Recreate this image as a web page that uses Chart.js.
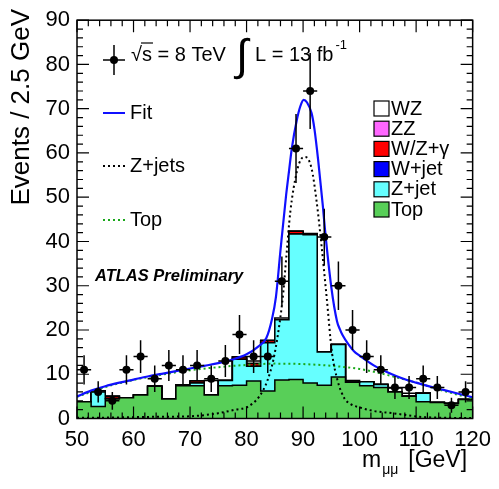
<!DOCTYPE html>
<html><head><meta charset="utf-8">
<script src="https://cdn.jsdelivr.net/npm/chart.js@4.4.0/dist/chart.umd.min.js"></script>
<style>html,body{margin:0;padding:0;background:#fff}#wrap{width:499px;height:489px;position:relative}</style>
</head><body><div id="wrap"><canvas id="c" width="499" height="489"></canvas></div>
<script>
// ---- data ----
const binEdges = [50,52.5,55,57.5,60,62.5,65,67.5,70,72.5,75,77.5,80,82.5,85,87.5,90,92.5,95,97.5,100,102.5,105,107.5,110,112.5,115,117.5,120];
const dataCounts = [11,6,4,11,14,9,12,11,12,9,13,19,14,14,31,61,74,41,30,20,14,11,7,7,9,7,3,6];
const dataErrors = [3.3,2.4,2.0,3.3,3.7,3.0,3.5,3.3,3.5,3.0,3.6,4.4,3.7,3.7,5.6,7.8,8.6,6.4,5.5,4.5,3.7,3.3,2.6,2.6,3.0,2.6,1.7,2.4];
const topBkg  = [3.8,2.7,4.4,4.7,5.3,7.3,4.4,7.4,7.4,5.3,7.4,7.5,8.5,6.2,8.7,8.8,8.0,7.5,9.4,8.2,7.4,7.0,6.0,5.0,3.8,3.6,3.4,4.3];
const zJet    = [0,3.5,0.1,0,0,0,0,0.2,0.6,0,1.2,5.9,3.3,10.9,13.6,32.9,33.5,7.5,7.3,0,0.9,0.7,0,0,1.9,0,0,0];
const wJet    = [0,0,0,0,0,0,0,0,0,0,0,0,0,0,0,0,0,0,0,0,0,0,0,0,0,0,0,0];
const wzGamma = [0,0,0.5,0,0,0,0,0,0.5,0,0,0.5,0.6,0.5,0,0.6,0.2,0,0,0,0,0,0,0,0,0,0,0];
const zzBkg   = [0,0,0,0,0,0,0,0,0,0,0,0,0,0,0,0,0,0,0,0,0,0,0,0,0,0,0,0];
const wzBkg   = [0,0,0,0,0,0,0,0,0,3.3,0,0,0.6,0,0.4,0,0.1,0,0,0.4,0,0,0.9,0.7,0,0,0,0];

const fitX = [50,52.5,55,57.5,60,62.5,65,67.5,70,72.5,75,77.5,80,82,83.5,84.5,85.2,86,87,87.5,88,88.9,89.5,90.1,90.7,91.5,92,92.7,93.5,93.85,95,96,96.5,97,98,99,100,102.5,105,107.5,110,112.5,115,117.5,120];
const fitY = [5.0,6.3,7.3,8.1,8.8,9.5,10.1,10.7,11.3,11.9,12.5,13.3,14.5,16.2,18.2,22.5,27.5,38,50.5,55.8,61,67.5,70.5,72,71.4,69,65.5,58,48,43,29.6,22,20.2,18.8,16.8,15.2,14.2,12.0,10.4,9.1,8.1,7.2,6.4,5.6,4.8];
const zjCurveX = [50,55,60,65,70,75,78,80.2,82.2,83.7,84.85,86,86.5,87,87.75,88.9,89.6,90.4,91.5,92.4,93.3,94.2,95.1,96.1,97.3,98.5,100,102.5,105.8,111.6,120];
const zjCurveY = [0.15,0.2,0.3,0.4,0.5,1.2,2.0,2.65,4.9,8.6,13.9,23,28.5,36,46.8,55.8,58.5,59.1,56.5,49,38.6,27,15,8.6,4.6,3.2,2.5,1.7,1.2,0.3,0.1];
const topCurveX = [50,55,60,65,70,75,80,85,90,95,100,105,110,115,120];
const topCurveY = [4.9,7.1,8.7,9.9,10.9,11.6,12.1,12.4,12.3,11.9,11.2,9.8,8.1,6.2,4.5];

const xTickLabels = [50,60,70,80,90,100,110,120];
const yTickLabels = [0,10,20,30,40,50,60,70,80,90];

const stackNames  = ['Top','Z+jet','W+jet','W/Z+γ','ZZ','WZ'];
const stackColors = ['#58cf58','#66ffff','#0000ff','#ff0000','#ff66ff','#ffffff'];
const stackParts  = [topBkg, zJet, wJet, wzGamma, zzBkg, wzBkg];

// ---- build ----
const FONT = '"Liberation Sans", Arial, Helvetica, sans-serif';
const cum = [];
stackParts.forEach((p,k)=>{ cum.push(p.map((v,i)=> v + (k>0 ? cum[k-1][i] : 0))); });
function stepPts(arr){ const pts=[]; arr.forEach((v,i)=>{pts.push({x:binEdges[i],y:v});pts.push({x:binEdges[i+1],y:v});}); return pts; }
function xy(xs,ys){ return xs.map((x,i)=>({x:x,y:ys[i]})); }

const datasets = [];
for (let k = stackParts.length-1; k >= 0; k--) {
  datasets.push({type:'line', label:stackNames[k], data:stepPts(cum[k]), borderColor:'#000', borderWidth:1.5,
    backgroundColor:stackColors[k], fill:'origin', pointRadius:0, tension:0, order:10+k});
}
datasets.push({type:'line', label:'TopCurve', data:xy(topCurveX,topCurveY), borderColor:'#1aa81a', borderWidth:2, borderDash:[2,3], pointRadius:0, cubicInterpolationMode:'monotone', fill:false, order:4});
datasets.push({type:'line', label:'ZjetsCurve', data:xy(zjCurveX,zjCurveY), borderColor:'#000', borderWidth:2, borderDash:[2,3], pointRadius:0, cubicInterpolationMode:'monotone', fill:false, order:3});
datasets.push({type:'line', label:'Fit', data:xy(fitX,fitY), borderColor:'#1010ff', borderWidth:2.2, pointRadius:0, cubicInterpolationMode:'monotone', fill:false, order:2});
datasets.push({type:'line', label:'Data', data:dataCounts.map((v,i)=>({x:(binEdges[i]+binEdges[i+1])/2,y:v})), showLine:false, pointRadius:4, pointBackgroundColor:'#000', pointBorderWidth:0, fill:false, order:1});

const errorBars = {id:'errorBars', afterDatasetsDraw(chart){
  const {ctx, scales:{x,y}, chartArea:a} = chart;
  ctx.save(); ctx.beginPath(); ctx.rect(a.left,a.top,a.width,a.height); ctx.clip();
  ctx.strokeStyle='#000'; ctx.lineWidth=1.5;
  dataCounts.forEach((v,i)=>{
    const px = x.getPixelForValue((binEdges[i]+binEdges[i+1])/2);
    const py = y.getPixelForValue(v);
    ctx.beginPath();
    ctx.moveTo(px, y.getPixelForValue(v+dataErrors[i])); ctx.lineTo(px, y.getPixelForValue(Math.max(0,v-dataErrors[i])));
    ctx.moveTo(x.getPixelForValue(binEdges[i]), py); ctx.lineTo(x.getPixelForValue(binEdges[i+1]), py);
    ctx.stroke();
  });
  ctx.restore();
}};

const frameAndText = {id:'frameAndText', afterDraw(chart){
  const {ctx, scales:{x,y}, chartArea:a} = chart;
  ctx.save();
  ctx.strokeStyle='#000'; ctx.lineWidth=1.5;
  ctx.strokeRect(a.left,a.top,a.width,a.height);
  ctx.lineWidth=1.2;
  ctx.beginPath();
  for (let v=50; v<=120; v+=2){ const px=x.getPixelForValue(v); const L=(v%10===0)?12:6;
    ctx.moveTo(px,a.bottom); ctx.lineTo(px,a.bottom-L); ctx.moveTo(px,a.top); ctx.lineTo(px,a.top+L); }
  for (let v=0; v<=90; v+=2){ const py=y.getPixelForValue(v); const L=(v%10===0)?12:6;
    ctx.moveTo(a.left,py); ctx.lineTo(a.left+L,py); ctx.moveTo(a.right,py); ctx.lineTo(a.right-L,py); }
  ctx.stroke();

  ctx.fillStyle='#000';
  ctx.save(); ctx.translate(22, 9); ctx.rotate(-Math.PI/2);
  ctx.font='26px '+FONT; ctx.textAlign='right'; ctx.textBaseline='middle';
  ctx.fillText('Events / 2.5 GeV',0,0); ctx.restore();
  ctx.textBaseline='alphabetic'; ctx.textAlign='left';
  ctx.font='23px '+FONT;
  let tx=362; ctx.fillText('m',tx,467); tx+=ctx.measureText('m').width+1;
  ctx.font='14px '+FONT; ctx.fillText('μμ',tx,474); tx+=ctx.measureText('μμ').width+10;
  ctx.font='23px '+FONT; ctx.fillText('[GeV]',tx,467);

  ctx.lineWidth=1.5; ctx.strokeStyle='#000';
  ctx.beginPath(); ctx.moveTo(103,60); ctx.lineTo(125,60); ctx.moveTo(114,45); ctx.lineTo(114,75); ctx.stroke();
  ctx.beginPath(); ctx.arc(114,60,4,0,2*Math.PI); ctx.fill();
  ctx.font='20px '+FONT; ctx.textBaseline='middle';
  let sx=131; ctx.fillText('√',sx,55); const wr=ctx.measureText('√').width; sx+=wr;
  ctx.fillText('s = 8 TeV',sx,55);
  const ws=ctx.measureText('s').width;
  ctx.lineWidth=1.2; ctx.beginPath(); ctx.moveTo(sx-1,43); ctx.lineTo(sx+ws+1,43); ctx.stroke();
  ctx.font='44px '+FONT; ctx.fillText('∫',236,58);
  ctx.font='20px '+FONT; ctx.fillText('L = 13 fb',255,55);
  const wl=ctx.measureText('L = 13 fb').width;
  ctx.font='13px '+FONT; ctx.fillText('-1',255+wl+2,45);

  ctx.font='20px '+FONT;
  ctx.lineWidth=2; ctx.strokeStyle='#1010ff'; ctx.setLineDash([]);
  ctx.beginPath(); ctx.moveTo(103,113); ctx.lineTo(125,113); ctx.stroke();
  ctx.fillText('Fit',130,113);
  ctx.strokeStyle='#000'; ctx.setLineDash([2,3]);
  ctx.beginPath(); ctx.moveTo(103,166); ctx.lineTo(125,166); ctx.stroke();
  ctx.fillText('Z+jets',130,166);
  ctx.strokeStyle='#1aa81a';
  ctx.beginPath(); ctx.moveTo(103,220); ctx.lineTo(125,220); ctx.stroke();
  ctx.setLineDash([]);
  ctx.fillText('Top',130,220);

  ctx.font='bold italic 16.5px '+FONT;
  ctx.fillText('ATLAS Preliminary',95,276);

  ctx.font='20px '+FONT; ctx.lineWidth=1.2; ctx.strokeStyle='#000';
  const order=[5,4,3,2,1,0];
  order.forEach((k,j)=>{ const cy=108.5+j*20.2;
    ctx.fillStyle=stackColors[k]; ctx.fillRect(374,cy-7.5,15,15); ctx.strokeRect(374,cy-7.5,15,15);
    ctx.fillStyle='#000'; ctx.fillText(stackNames[k],391,cy+0.5); });
  ctx.restore();
}};

new Chart(document.getElementById('c'), {
  type:'line',
  data:{datasets},
  options:{
    responsive:false, animation:false, events:[],
    layout:{padding:{left:0,right:21,top:18,bottom:0}},
    plugins:{legend:{display:false}, tooltip:{enabled:false}, filler:{propagate:false, drawTime:'beforeDatasetDraw'}},
    scales:{
      x:{type:'linear', min:50, max:120,
         afterBuildTicks:(s)=>{s.ticks = xTickLabels.map(v=>({value:v}));},
         afterFit:(s)=>{s.height=70.5;},
         ticks:{font:{family:FONT,size:22}, color:'#000', padding:8, maxRotation:0, autoSkip:false},
         grid:{display:false, drawTicks:false}, border:{display:false}},
      y:{type:'linear', min:0, max:90,
         afterBuildTicks:(s)=>{s.ticks = yTickLabels.map(v=>({value:v}));},
         afterFit:(s)=>{s.width=77;},
         ticks:{font:{family:FONT,size:22}, color:'#000', padding:7, autoSkip:false},
         grid:{display:false, drawTicks:false}, border:{display:false}}
    }
  },
  plugins:[errorBars, frameAndText]
});
</script></body></html>
